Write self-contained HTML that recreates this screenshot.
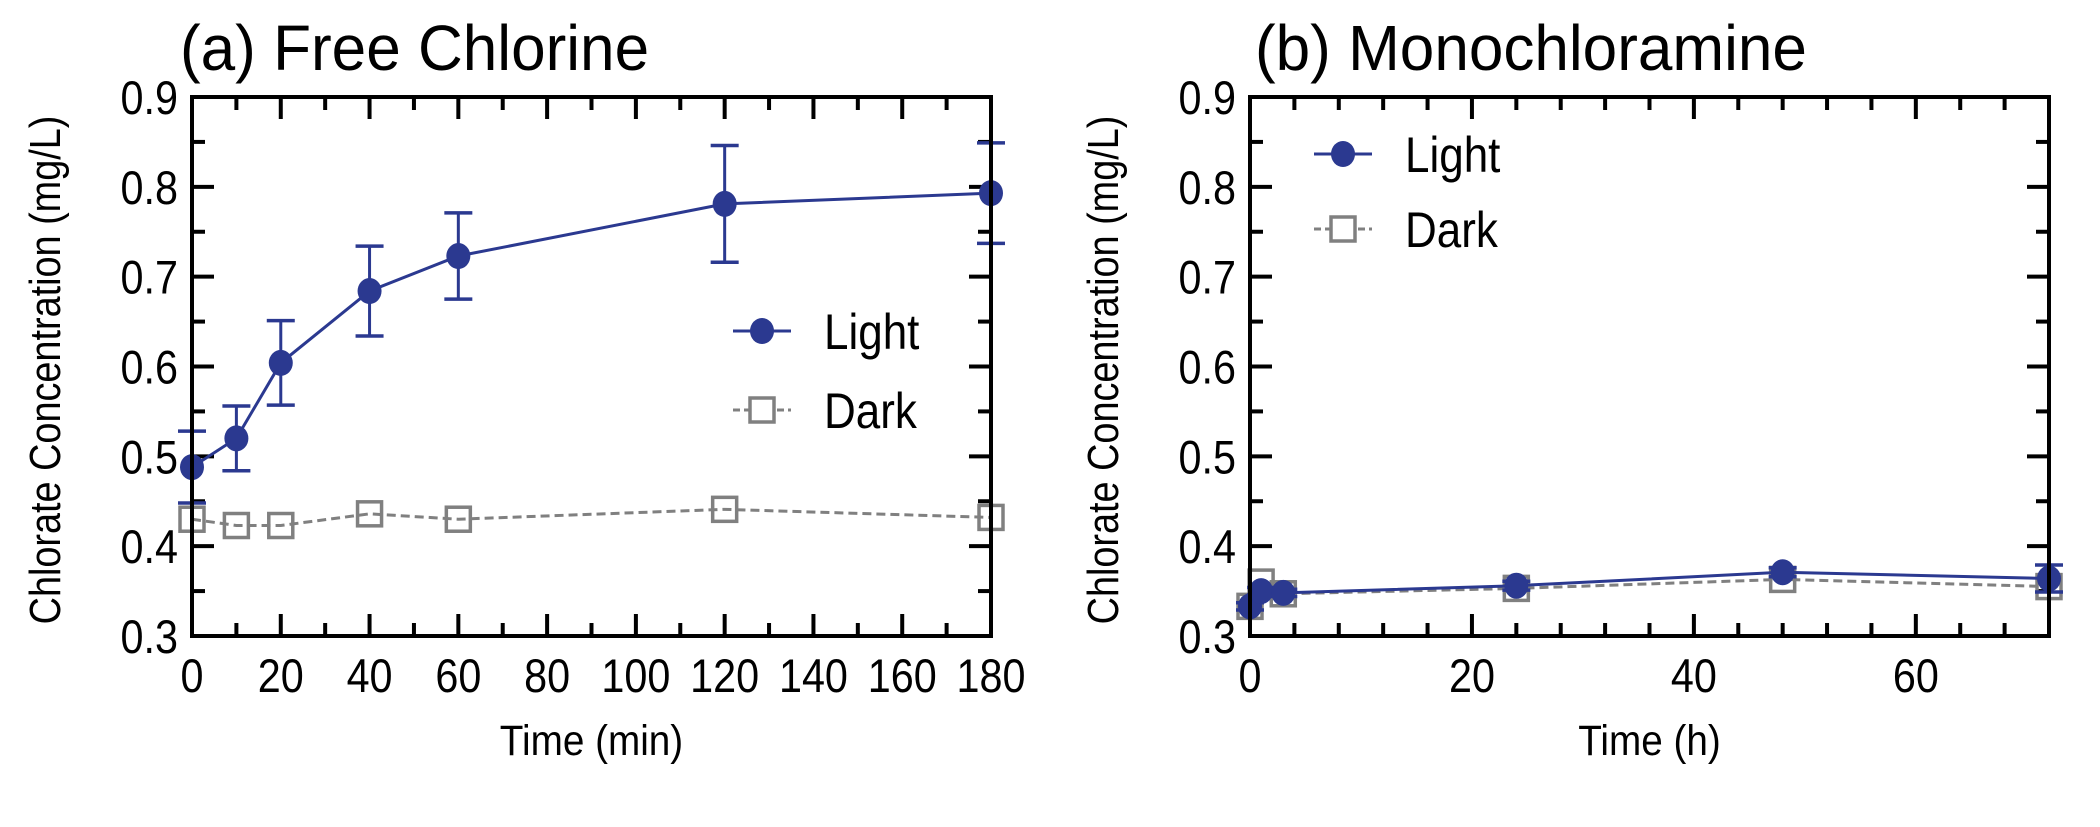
<!DOCTYPE html>
<html><head><meta charset="utf-8">
<style>
html,body{margin:0;padding:0;background:#fff;}
svg{display:block;font-family:"Liberation Sans",Arial,sans-serif;}
</style></head>
<body>
<svg id="chart" width="2100" height="827" viewBox="0 0 2100 827"></svg>
<script>
const timesA = [0, 10, 20, 40, 60, 120, 180];
const lightA = [0.488, 0.520, 0.604, 0.684, 0.723, 0.781, 0.793];
const lightAErr = [0.040, 0.036, 0.047, 0.050, 0.048, 0.065, 0.056];
const darkA = [0.430, 0.423, 0.423, 0.436, 0.430, 0.441, 0.432];
const timesB = [0, 1, 3, 24, 48, 72];
const lightB = [0.333, 0.350, 0.348, 0.356, 0.371, 0.364];
const lightBErr = [0.004, 0.004, 0.004, 0.005, 0.005, 0.015];
const darkB = [0.333, 0.360, 0.347, 0.353, 0.363, 0.355];
const yTicks = [0.3, 0.4, 0.5, 0.6, 0.7, 0.8, 0.9];
const xTicksA = [0, 20, 40, 60, 80, 100, 120, 140, 160, 180];
const xTicksB = [0, 20, 40, 60];

const NS = "http://www.w3.org/2000/svg";
const svg = document.getElementById('chart');
const BLUE = "#2b3990", GRAY = "#808080";
function mk(tag, attrs, parent, text){
  const e = document.createElementNS(NS, tag);
  for (const k in attrs) e.setAttribute(k, attrs[k]);
  if (text !== undefined) e.textContent = text;
  (parent || svg).appendChild(e);
  return e;
}
function txt(parent, x, y, size, anchor, str, sx, rot){
  const tr = `translate(${x},${y})` + (rot ? ` rotate(${rot})` : '') + ` scale(${sx},1)`;
  return mk('text', {x: 0, y: 0, 'font-size': size, 'text-anchor': anchor, transform: tr, fill: '#000'}, parent, str);
}

function panel(cfg){
  const g = mk('g', {});
  
  
  const L = cfg.left, R = cfg.right, T = 97, B = 636;
  const ymin = 0.3, ymax = 0.9;
  const sx = v => L + (v - cfg.xmin) / (cfg.xmax - cfg.xmin) * (R - L);
  const sy = v => B - (v - ymin) / (ymax - ymin) * (B - T);

  const t = txt(g, cfg.titleX, 70, 64, 'start', cfg.title, 0.97);
  
  

  for (let v = 0.3; v <= 0.9001; v += 0.05) {
    const major = Math.abs(Math.round(v * 10) - v * 10) < 1e-6;
    const len = major ? 22 : 13;
    const y = sy(v);
    mk('line', {x1: L, x2: L + len, y1: y, y2: y, stroke: '#000', 'stroke-width': 4}, g);
    mk('line', {x1: R, x2: R - len, y1: y, y2: y, stroke: '#000', 'stroke-width': 4}, g);
  }
  for (let v = cfg.xmin; v <= cfg.xmax + 1e-6; v += cfg.minor) {
    const major = Math.abs(v / cfg.major - Math.round(v / cfg.major)) < 1e-6;
    const len = major ? 22 : 13;
    const x = sx(v);
    mk('line', {x1: x, x2: x, y1: B, y2: B - len, stroke: '#000', 'stroke-width': 4}, g);
    mk('line', {x1: x, x2: x, y1: T, y2: T + len, stroke: '#000', 'stroke-width': 4}, g);
  }
  yTicks.forEach(v => {
    const e = txt(g, L - 14, sy(v) + 17, 47, 'end', v.toFixed(1), 0.88);
    
    
  });
  cfg.xTicks.forEach(v => {
    const e = txt(g, sx(v), 692, 47, 'middle', String(v), 0.88);
    
    
  });
  const xt = txt(g, (L + R) / 2, 755, 43, 'middle', cfg.xTitle, 0.9);
  
  
  const yt = txt(g, cfg.yLabelX, 370, 44, 'middle', 'Chlorate Concentration (mg/L)', 0.86, -90);
  
  

  const dpts = cfg.times.map((tv, i) => `${sx(tv)},${sy(cfg.dark[i])}`).join(' ');
  const dl = mk('polyline', {points: dpts, fill: 'none', stroke: GRAY, 'stroke-width': 3, 'stroke-dasharray': '9,5'}, g);
  
  
  cfg.times.forEach((tv, i) => {
    const s = mk('rect', {x: sx(tv) - 12, y: sy(cfg.dark[i]) - 12, width: 24, height: 24, fill: 'none', stroke: GRAY, 'stroke-width': 3.5}, g);
    
    
  });

  cfg.times.forEach((tv, i) => {
    const x = sx(tv), y1 = sy(cfg.light[i] + cfg.err[i]), y2 = sy(cfg.light[i] - cfg.err[i]);
    mk('line', {x1: x, x2: x, y1: y1, y2: y2, stroke: BLUE, 'stroke-width': 3}, g);
    mk('line', {x1: x - 14, x2: x + 14, y1: y1, y2: y1, stroke: BLUE, 'stroke-width': 3.5}, g);
    mk('line', {x1: x - 14, x2: x + 14, y1: y2, y2: y2, stroke: BLUE, 'stroke-width': 3.5}, g);
  });
  const lpts = cfg.times.map((tv, i) => `${sx(tv)},${sy(cfg.light[i])}`).join(' ');
  const ll = mk('polyline', {points: lpts, fill: 'none', stroke: BLUE, 'stroke-width': 3}, g);
  
  
  cfg.times.forEach((tv, i) => {
    const c = mk('ellipse', {cx: sx(tv), cy: sy(cfg.light[i]), rx: 12, ry: 13, fill: BLUE}, g);
    
    
  });

  mk('rect', {x: L, y: T, width: R - L, height: B - T, fill: 'none', stroke: '#000', 'stroke-width': 4}, g);

  const lg = mk('g', {}, g);
  
  
  const mx = cfg.legX, y1 = cfg.legY1, y2 = cfg.legY2;
  mk('line', {x1: mx - 29, x2: mx + 29, y1: y1, y2: y1, stroke: BLUE, 'stroke-width': 3}, lg);
  mk('ellipse', {cx: mx, cy: y1, rx: 12, ry: 13, fill: BLUE}, lg);
  txt(lg, mx + 62, y1 + 18, 50, 'start', 'Light', 0.88);
  mk('line', {x1: mx - 29, x2: mx + 29, y1: y2, y2: y2, stroke: GRAY, 'stroke-width': 3, 'stroke-dasharray': '7,4'}, lg);
  mk('rect', {x: mx - 12, y: y2 - 12, width: 24, height: 24, fill: '#fff', stroke: GRAY, 'stroke-width': 3.5}, lg);
  txt(lg, mx + 62, y2 + 18, 50, 'start', 'Dark', 0.88);
}

panel({name: 'panel-a-free-chlorine', left: 192, right: 991, xmin: 0, xmax: 180, minor: 10, major: 20,
  times: timesA, light: lightA, err: lightAErr, dark: darkA, xTicks: xTicksA,
  title: '(a) Free Chlorine', titleX: 180, xTitle: 'Time (min)', yLabelX: 60,
  legX: 762, legY1: 331, legY2: 410});
panel({name: 'panel-b-monochloramine', left: 1250, right: 2049, xmin: 0, xmax: 72, minor: 4, major: 20,
  times: timesB, light: lightB, err: lightBErr, dark: darkB, xTicks: xTicksB,
  title: '(b) Monochloramine', titleX: 1255, xTitle: 'Time (h)', yLabelX: 1118,
  legX: 1343, legY1: 154, legY2: 229});
</script>
</body></html>
